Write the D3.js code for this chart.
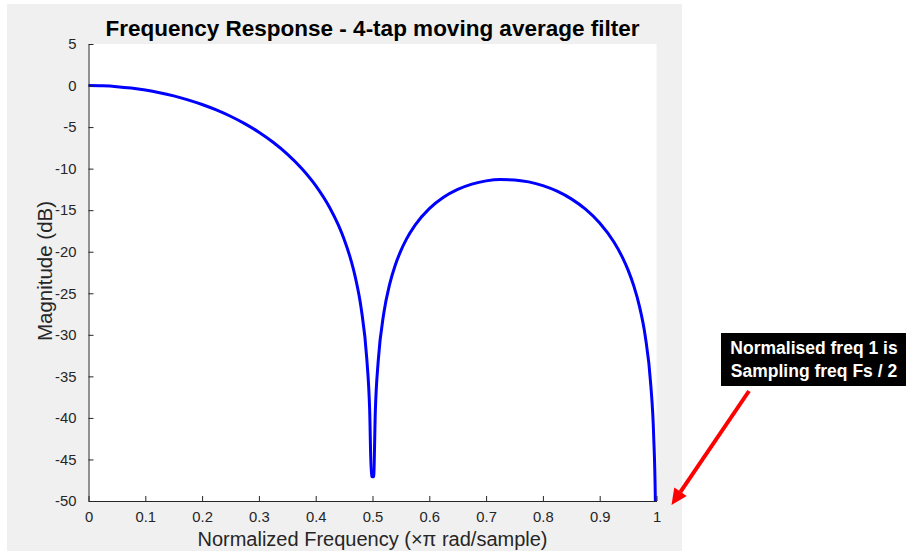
<!DOCTYPE html>
<html><head><meta charset="utf-8">
<script src="https://cdn.jsdelivr.net/npm/d3@7"></script>
<style>html,body{margin:0;padding:0;background:#fff;}svg{display:block;}</style>
</head><body>
<script>
// Data (normalized frequency, magnitude in dB)
const freq = [0,0.025,0.05,0.075,0.1,0.125,0.15,0.175,0.2,0.225,0.25,0.275,0.3,0.325,0.35,0.375,0.4,0.425,0.44,0.45,0.46,0.47,0.48,0.49,0.495,0.498,
  0.502,0.505,0.51,0.52,0.53,0.54,0.55,0.56,0.575,0.6,0.625,0.65,0.675,0.7,0.725,0.75,0.775,0.8,0.825,0.85,0.875,0.9,0.925,0.94,0.95,0.96,0.97,0.98,0.99,0.995,0.998,0.999];
const magDb = [0,-0.034,-0.134,-0.304,-0.544,-0.856,-1.246,-1.717,-2.277,-2.933,-3.698,-4.586,-5.618,-6.823,-8.244,-9.947,-12.041,-14.736,-16.81,-18.492,-20.536,-23.147,-26.788,-32.934,-39.02,-47.02,
  -47.07,-39.157,-33.207,-27.334,-23.967,-21.630,-19.862,-18.457,-16.801,-14.816,-13.449,-12.497,-11.859,-11.475,-11.312,-11.354,-11.595,-12.041,-12.711,-13.639,-14.883,-16.549,-18.840,-20.683,-22.215,-24.111,-26.577,-30.075,-36.082,-42.10,-50.06,-56.08];
const xTicks = [0,0.1,0.2,0.3,0.4,0.5,0.6,0.7,0.8,0.9,1];
const xTickLabels = ["0","0.1","0.2","0.3","0.4","0.5","0.6","0.7","0.8","0.9","1"];
const yTicks = [5,0,-5,-10,-15,-20,-25,-30,-35,-40,-45,-50];
const yTickLabels = ["5","0","-5","-10","-15","-20","-25","-30","-35","-40","-45","-50"];
const titleText = "Frequency Response - 4-tap moving average filter";
const xLabelText = "Normalized Frequency (\u00d7\u03c0 rad/sample)";
const yLabelText = "Magnitude (dB)";
const noteLines = ["Normalised freq 1 is","Sampling freq Fs / 2"];

const W = 906, H = 551;
const L = 88.5, R = 656.5, T = 44, B = 501;
const axisColor = "#262626";
const font = "'Liberation Sans', Arial, Helvetica, sans-serif";

const svg = d3.select("body").append("svg").attr("width", W).attr("height", H);
svg.append("rect").attr("x",0).attr("y",0).attr("width",W).attr("height",H).attr("fill","#fff");
svg.append("rect").attr("x",7).attr("y",4).attr("width",675).attr("height",H-4).attr("fill","#f0f0f0");
svg.append("rect").attr("x",L).attr("y",T).attr("width",R-L).attr("height",B-T).attr("fill","#fff");

const x = d3.scaleLinear().domain([0,1]).range([L,R]);
const y = d3.scaleLinear().domain([-50,5]).range([B,T]);

svg.append("defs").append("clipPath").attr("id","clip")
  .append("rect").attr("x",L-2).attr("y",T).attr("width",R-L+4).attr("height",B-T);

const pts = freq.map((f,i)=>[f,magDb[i]]);
const line = d3.line().x(d=>x(d[0])).y(d=>y(d[1])).curve(d3.curveMonotoneX);
svg.append("path").attr("d", line(pts)).attr("fill","none").attr("stroke","#0000ff")
  .attr("stroke-width",3).attr("stroke-linejoin","round").attr("clip-path","url(#clip)");

// axes
const xAxis = d3.axisBottom(x).tickValues(xTicks).tickFormat((d,i)=>xTickLabels[i]).tickSizeInner(-5).tickSizeOuter(0).tickPadding(10);
const gx = svg.append("g").attr("transform",`translate(0,${B})`).call(xAxis);
const yAxis = d3.axisLeft(y).tickValues(yTicks).tickFormat((d,i)=>yTickLabels[i]).tickSizeInner(-5).tickSizeOuter(0).tickPadding(12);
const gy = svg.append("g").attr("transform",`translate(${L},0)`).call(yAxis);
[gx,gy].forEach(g=>{
  g.select(".domain").attr("stroke",axisColor).attr("stroke-width",1);
  g.selectAll(".tick line").attr("stroke",axisColor).attr("stroke-width",1);
  g.selectAll(".tick text").attr("fill",axisColor).attr("font-family",font).attr("font-size",14.8);
});

// title & labels
svg.append("text").attr("x",(L+R)/2).attr("y",36).attr("text-anchor","middle")
  .attr("font-family",font).attr("font-weight","bold").attr("font-size",22.5).attr("fill","#000").text(titleText);
svg.append("text").attr("x",(L+R)/2).attr("y",545.5).attr("text-anchor","middle")
  .attr("font-family",font).attr("font-size",20).attr("fill",axisColor).text(xLabelText);
svg.append("text").attr("transform","translate(52,271) rotate(-90)").attr("text-anchor","middle")
  .attr("font-family",font).attr("font-size",20.5).attr("fill",axisColor).text(yLabelText);

// annotation
svg.append("rect").attr("x",721).attr("y",333).attr("width",185).attr("height",53).attr("fill","#000");
noteLines.forEach((t,i)=>{
  svg.append("text").attr("x",814).attr("y",353.5+i*23).attr("text-anchor","middle")
    .attr("font-family",font).attr("font-weight","bold").attr("font-size",17.5).attr("fill","#fff").text(t);
});
// arrow
const ax0=749, ay0=391, ax1=671.5, ay1=505;
const ang = Math.atan2(ay1-ay0, ax1-ax0);
const hl = 16, hw = 7.5;
const bx = ax1 - hl*Math.cos(ang), by = ay1 - hl*Math.sin(ang);
svg.append("line").attr("x1",ax0).attr("y1",ay0).attr("x2",bx).attr("y2",by)
  .attr("stroke","#ff0000").attr("stroke-width",4);
svg.append("path").attr("d",`M${ax1},${ay1} L${bx+hw*Math.sin(ang)},${by-hw*Math.cos(ang)} L${bx-hw*Math.sin(ang)},${by+hw*Math.cos(ang)} Z`)
  .attr("fill","#ff0000");
</script>
</body></html>
